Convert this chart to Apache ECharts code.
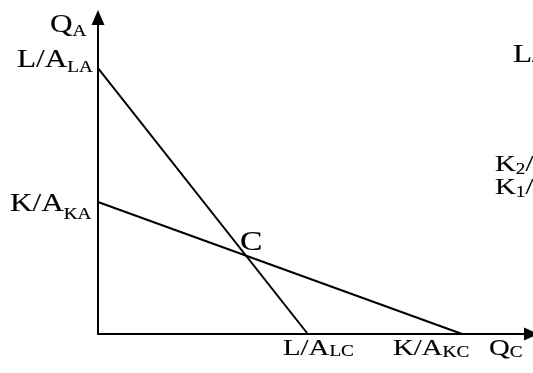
<!DOCTYPE html>
<html>
<head>
<meta charset="utf-8">
<script src="https://cdn.jsdelivr.net/npm/echarts@6/dist/echarts.min.js"></script>
<style>
  html, body { margin: 0; padding: 0; background: #fff; }
  #chart { width: 533px; height: 373px; }
</style>
</head>
<body>
<div id="chart"></div>
<script>
// budget lines, in axis units (0..100 on both axes)
const lineL = [[0, 84], [48.4, 0]]   // L/A_LA -> L/A_LC
const lineK = [[0, 41.7], [84, 0]]   // K/A_KA -> K/A_KC
const axisMax = [100, 100]

// text labels: [main, sub]
const labelQA = ['Q', 'A']
const labelLA = ['L/A', 'LA']
const labelKA = ['K/A', 'KA']
const labelLC = ['L/A', 'LC']
const labelKC = ['K/A', 'KC']
const labelQC = ['Q', 'C']
const labelC = 'C'

const FONT = '"Liberation Serif", "Times New Roman", serif'
const STRETCH = 1.2
const INK = { fill: '#000', stroke: '#000', lineWidth: 0.15 }

// crossing of the two lines
function intersect(a, b) {
  const s1 = (a[1][1] - a[0][1]) / (a[1][0] - a[0][0])
  const s2 = (b[1][1] - b[0][1]) / (b[1][0] - b[0][0])
  const x = (b[0][1] - a[0][1]) / (s1 - s2)
  return [x, a[0][1] + s1 * x]
}

// text with a subscript; x = left edge, base = baseline of main text
function subText(x, base, main, sub, size, subSize, drop, tail) {
  const pt = drop + 0.82 * (size - subSize)
  let text = '{m|' + main + '}{s|' + sub + '}'
  if (tail) text += '{m|' + tail + '}'
  return {
    type: 'text',
    x: x,
    y: base - 0.82 * size,
    scaleX: STRETCH,
    silent: true,
    style: {
      text: text,
      align: 'left',
      verticalAlign: 'top',
      fill: '#000',
      rich: {
        m: Object.assign({ fontFamily: FONT, fontSize: size, lineHeight: size, verticalAlign: 'top' }, INK),
        s: Object.assign({ fontFamily: FONT, fontSize: subSize, lineHeight: subSize, padding: [pt, 0, 0, 0], verticalAlign: 'top' }, INK)
      }
    }
  }
}

const chart = echarts.init(document.getElementById('chart'))

const axisCommon = {
  type: 'value',
  min: 0,
  axisLine: {
    show: true,
    symbol: ['none', 'triangle'],
    symbolSize: [13, 15],
    lineStyle: { color: '#000', width: 2 }
  },
  axisTick: { show: false },
  axisLabel: { show: false },
  splitLine: { show: false }
}

chart.setOption({
  animation: false,
  backgroundColor: '#fff',
  grid: { left: 98, right: 1.5, top: 17.5, bottom: 39 },
  xAxis: Object.assign({}, axisCommon, { max: axisMax[0] }),
  yAxis: Object.assign({}, axisCommon, { max: axisMax[1] }),
  series: [
    {
      name: 'L',
      type: 'line',
      data: lineL,
      showSymbol: false,
      clip: false,
      lineStyle: { color: '#000', width: 2 }
    },
    {
      name: 'K',
      type: 'line',
      data: lineK,
      showSymbol: false,
      clip: false,
      lineStyle: { color: '#000', width: 2 }
    }
  ]
})

const cPx = chart.convertToPixel({ gridIndex: 0 }, intersect(lineL, lineK))

chart.setOption({
  graphic: [
    subText(50, 33, labelQA[0], labelQA[1], 26, 16, 4),
    subText(17, 68, labelLA[0], labelLA[1], 26, 16, 5),
    subText(10, 212, labelKA[0], labelKA[1], 26, 16, 8),
    subText(283, 356, labelLC[0], labelLC[1], 24, 16, 1),
    subText(393, 356, labelKC[0], labelKC[1], 24, 16, 2),
    subText(489, 356, labelQC[0], labelQC[1], 24, 16, 2),
    // labels of the next panel, cut by the right edge
    subText(513, 63, 'L/A', 'LB', 26, 16, 5),
    subText(495, 172, 'K', '2', 24, 16, 3, '/A'),
    subText(495, 195, 'K', '1', 24, 16, 3, '/A'),
    {
      type: 'text',
      x: cPx[0] - 6,
      y: cPx[1] - 4 - 0.82 * 28,
      scaleX: STRETCH,
      silent: true,
      style: Object.assign({
        text: labelC,
        font: '28px ' + FONT,
        align: 'left',
        verticalAlign: 'top'
      }, INK)
    }
  ]
})
</script>
</body>
</html>
